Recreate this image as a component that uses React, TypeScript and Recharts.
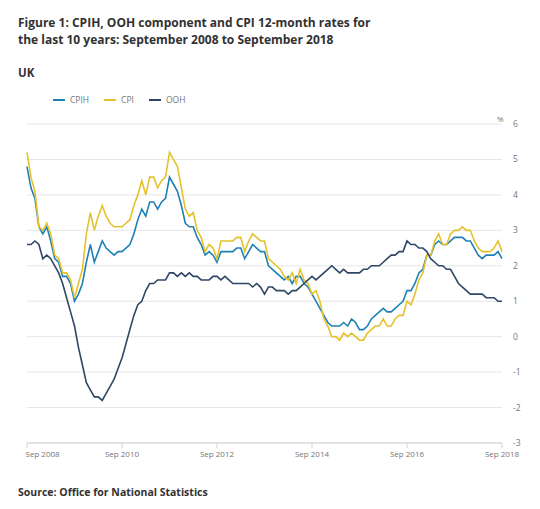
import { LineChart, Line, XAxis, YAxis, CartesianGrid } from 'recharts'

const MONTH_NAMES = ['Jan', 'Feb', 'Mar', 'Apr', 'May', 'Jun', 'Jul', 'Aug', 'Sep', 'Oct', 'Nov', 'Dec']

// Sep 2008 .. Sep 2018, monthly
const months: string[] = []
for (let k = 0; k <= 120; k++) {
  const m = (8 + k) % 12
  const y = 2008 + Math.floor((8 + k) / 12)
  months.push(`${MONTH_NAMES[m]} ${y}`)
}

const cpih = [
  4.8, 4.2, 3.9, 3.1,
  2.9, 3.1, 2.7, 2.2, 2.1, 1.7, 1.7, 1.5, 1.0, 1.2, 1.5, 2.1,
  2.6, 2.1, 2.4, 2.7, 2.5, 2.4, 2.3, 2.4, 2.4, 2.5, 2.6, 2.9,
  3.3, 3.6, 3.4, 3.8, 3.8, 3.6, 3.8, 3.9, 4.5, 4.3, 4.1, 3.7,
  3.2, 3.1, 3.1, 2.8, 2.6, 2.3, 2.4, 2.3, 2.1, 2.4, 2.4, 2.4,
  2.4, 2.5, 2.5, 2.2, 2.4, 2.6, 2.5, 2.4, 2.4, 2.0, 1.9, 1.8,
  1.7, 1.6, 1.7, 1.5, 1.7, 1.7, 1.5, 1.4, 1.2, 1.0, 0.8, 0.6,
  0.4, 0.3, 0.3, 0.3, 0.4, 0.3, 0.5, 0.4, 0.2, 0.2, 0.3, 0.5,
  0.6, 0.7, 0.8, 0.7, 0.7, 0.8, 0.9, 1.0, 1.3, 1.3, 1.5, 1.8,
  1.9, 2.3, 2.3, 2.6, 2.7, 2.6, 2.6, 2.7, 2.8, 2.8, 2.8, 2.7,
  2.7, 2.5, 2.3, 2.2, 2.3, 2.3, 2.3, 2.4, 2.2,
]

const cpi = [
  5.2, 4.5, 4.1, 3.1,
  3.0, 3.2, 2.9, 2.3, 2.2, 1.8, 1.8, 1.6, 1.1, 1.5, 1.9, 2.9,
  3.5, 3.0, 3.4, 3.7, 3.4, 3.2, 3.1, 3.1, 3.1, 3.2, 3.3, 3.7,
  4.0, 4.4, 4.0, 4.5, 4.5, 4.2, 4.4, 4.5, 5.2, 5.0, 4.8, 4.2,
  3.6, 3.4, 3.5, 3.0, 2.8, 2.4, 2.6, 2.5, 2.2, 2.7, 2.7, 2.7,
  2.7, 2.8, 2.8, 2.4, 2.7, 2.9, 2.8, 2.7, 2.7, 2.2, 2.1, 2.0,
  1.9, 1.7, 1.6, 1.8, 1.5, 1.9, 1.6, 1.5, 1.2, 1.3, 1.0, 0.5,
  0.3, 0.0, 0.0, -0.1, 0.1, 0.0, 0.1, 0.0, -0.1, -0.1, 0.1, 0.2,
  0.3, 0.3, 0.5, 0.3, 0.3, 0.5, 0.6, 0.6, 1.0, 0.9, 1.2, 1.6,
  1.8, 2.3, 2.3, 2.7, 2.9, 2.6, 2.6, 2.9, 3.0, 3.0, 3.1, 3.0,
  3.0, 2.7, 2.5, 2.4, 2.4, 2.4, 2.5, 2.7, 2.4,
]

const ooh = [
  2.6, 2.6, 2.7, 2.6,
  2.2, 2.3, 2.2, 2.0, 1.8, 1.5, 1.1, 0.7, 0.3, -0.3, -0.8, -1.3,
  -1.5, -1.7, -1.7, -1.8, -1.6, -1.4, -1.2, -0.9, -0.6, -0.2, 0.2, 0.6,
  0.9, 1.0, 1.3, 1.5, 1.5, 1.6, 1.6, 1.6, 1.8, 1.8, 1.7, 1.8,
  1.7, 1.8, 1.7, 1.7, 1.6, 1.6, 1.6, 1.7, 1.7, 1.6, 1.7, 1.6,
  1.5, 1.5, 1.5, 1.5, 1.5, 1.4, 1.5, 1.4, 1.2, 1.4, 1.4, 1.3,
  1.3, 1.3, 1.2, 1.3, 1.3, 1.4, 1.5, 1.6, 1.7, 1.6, 1.7, 1.8,
  1.9, 2.0, 1.9, 1.8, 1.9, 1.8, 1.8, 1.8, 1.8, 1.9, 1.9, 2.0,
  2.0, 2.0, 2.1, 2.2, 2.3, 2.3, 2.4, 2.4, 2.7, 2.6, 2.6, 2.5,
  2.5, 2.4, 2.2, 2.1, 2.0, 2.0, 1.9, 1.9, 1.7, 1.5, 1.4, 1.3,
  1.2, 1.2, 1.2, 1.2, 1.1, 1.1, 1.1, 1.0, 1.0,
]

const xTicks = ['Sep 2008', 'Sep 2010', 'Sep 2012', 'Sep 2014', 'Sep 2016', 'Sep 2018']
const yTicks = [-3, -2, -1, 0, 1, 2, 3, 4, 5, 6]

const series = [
  { key: 'CPIH', color: '#1f80b5' },
  { key: 'CPI', color: '#e5c22c' },
  { key: 'OOH', color: '#2f4766' },
]

const data = months.map((month, i) => ({ month, CPIH: cpih[i], CPI: cpi[i], OOH: ooh[i] }))

const FONT = '"Open Sans", sans-serif'
const TICK = '#767676'

function XTick(props: any) {
  const { x, y, payload, index } = props
  return (
    <text x={index === 0 ? x - 1.5 : x} y={y} dy="0.71em" textAnchor={index === 0 ? 'start' : 'middle'}
      fill={TICK} fontSize={8} fontFamily={FONT}>
      {payload.value}
    </text>
  )
}

export default function App() {
  return (
    <div style={{ position: 'absolute', left: 0, top: 0, width: 540, height: 509, background: '#fff', fontFamily: FONT, color: '#323132' }}>
      <div style={{ position: 'absolute', left: 18, top: 14, fontSize: 12, fontWeight: 700, lineHeight: '17px' }}>
        Figure 1: CPIH, OOH component and CPI 12-month rates for<br />
        the last 10 years: September 2008 to September 2018
      </div>
      <div style={{ position: 'absolute', left: 18, top: 65, fontSize: 11.5, fontWeight: 700 }}>UK</div>

      <div style={{ position: 'absolute', left: 53, top: 94, display: 'flex', alignItems: 'center', fontSize: 8.5, color: TICK }}>
        {series.map(s => (
          <div key={s.key} style={{ display: 'flex', alignItems: 'center', marginRight: 15 }}>
            <span style={{ display: 'inline-block', width: 12, height: 2, background: s.color, marginRight: 5 }} />
            {s.key}
          </div>
        ))}
      </div>

      <div style={{ position: 'absolute', left: 497, top: 113, fontSize: 8, color: TICK }}>%</div>

      <LineChart width={540} height={509} data={data} margin={{ top: 124, right: 0, left: 27, bottom: 36 }}
        style={{ position: 'absolute', left: 0, top: 0 }}>
        <CartesianGrid vertical={false} stroke="#e6e6e6" />
        <XAxis dataKey="month" ticks={xTicks} interval={0} height={30} tick={<XTick />}
          axisLine={{ stroke: '#cfd3d8' }} tickLine={{ stroke: '#cfd3d8' }} tickSize={5} tickMargin={3} />
        <YAxis orientation="right" domain={[-3, 6]} ticks={yTicks} width={38} axisLine={false} tickLine={false}
          tickSize={0} tickMargin={11} tick={{ fill: TICK, fontSize: 8.5, fontFamily: FONT }} />
        {series.map(s => (
          <Line key={s.key} type="linear" dataKey={s.key} stroke={s.color} strokeWidth={1.6}
            dot={false} isAnimationActive={false} />
        ))}
      </LineChart>

      <div style={{ position: 'absolute', left: 18, top: 485, fontSize: 10.5, fontWeight: 700 }}>
        Source: Office for National Statistics
      </div>
    </div>
  )
}
